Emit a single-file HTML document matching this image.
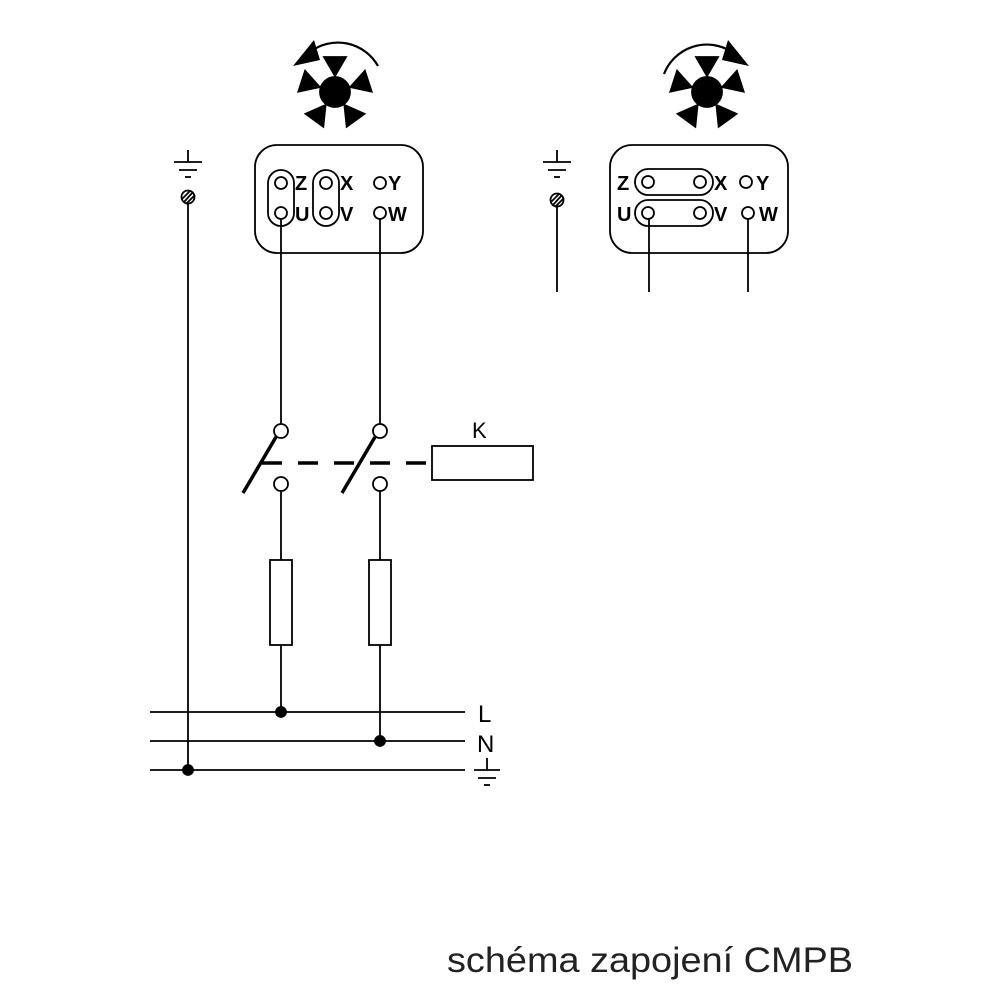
<!DOCTYPE html>
<html><head><meta charset="utf-8"><style>html,body{margin:0;padding:0;background:#fff}svg{display:block}</style></head>
<body>
<svg width="1000" height="1000" viewBox="0 0 1000 1000" xmlns="http://www.w3.org/2000/svg" font-family="Liberation Sans, sans-serif">
<defs>
<g id="fan">
<circle cx="0" cy="0" r="15" fill="#000"/>
<g fill="#000">
<polygon points="-11,-35 11,-35 0,-16" transform="rotate(0)"/>
<polygon points="-11,-35 11,-35 0,-16" transform="rotate(72)"/>
<polygon points="-11,-35 11,-35 0,-16" transform="rotate(144)"/>
<polygon points="-11,-35 11,-35 0,-16" transform="rotate(216)"/>
<polygon points="-11,-35 11,-35 0,-16" transform="rotate(288)"/>
</g>
</g>
</defs>
<g stroke="#000" stroke-width="1.8" fill="none">
<use href="#fan" x="335" y="92"/>
<path d="M378,66 A46,46 0 0 0 310,52" stroke-width="2.2"/>
<polygon points="293,66 314,40 320,60" fill="#000" stroke="none"/>
<use href="#fan" x="707" y="92"/>
<path d="M664,74 A46,46 0 0 1 732,52" stroke-width="2.2"/>
<polygon points="749,66 728,40 722,60" fill="#000" stroke="none"/>

<line x1="188" y1="150" x2="188" y2="162"/>
<line x1="174" y1="162" x2="202" y2="162"/>
<line x1="179" y1="170" x2="197" y2="170"/>
<line x1="185" y1="177" x2="191" y2="177"/>
<circle cx="188" cy="197" r="6.5"/>
<line x1="184" y1="202" x2="193" y2="192"/>
<line x1="182" y1="199" x2="190" y2="191"/>
<line x1="186" y1="204" x2="195" y2="195"/>
<line x1="188" y1="204" x2="188" y2="770"/>

<rect x="255" y="145" width="168" height="108" rx="22"/>
<rect x="268" y="170" width="26" height="56" rx="13"/>
<rect x="313" y="170" width="26" height="56" rx="13"/>
<circle cx="281" cy="183" r="6"/><circle cx="281" cy="213" r="6"/>
<circle cx="326" cy="183" r="6"/><circle cx="326" cy="213" r="6"/>
<circle cx="380" cy="183" r="6"/><circle cx="380" cy="213" r="6"/>

<line x1="557" y1="150" x2="557" y2="162"/>
<line x1="543" y1="162" x2="571" y2="162"/>
<line x1="548" y1="170" x2="566" y2="170"/>
<line x1="554" y1="177" x2="560" y2="177"/>
<circle cx="557" cy="200" r="6.5"/>
<line x1="553" y1="205" x2="562" y2="195"/>
<line x1="551" y1="202" x2="559" y2="194"/>
<line x1="555" y1="207" x2="564" y2="198"/>
<line x1="557" y1="207" x2="557" y2="292"/>

<rect x="610" y="145" width="178" height="108" rx="22"/>
<rect x="635" y="169" width="78" height="26" rx="13"/>
<rect x="635" y="200" width="78" height="26" rx="13"/>
<circle cx="648" cy="182" r="6"/><circle cx="700" cy="182" r="6"/>
<circle cx="648" cy="213" r="6"/><circle cx="700" cy="213" r="6"/>
<circle cx="746" cy="182" r="6"/><circle cx="748" cy="213" r="6"/>
<line x1="649" y1="219" x2="649" y2="292"/>
<line x1="748" y1="219" x2="748" y2="292"/>

<line x1="281" y1="219" x2="281" y2="424"/>
<line x1="380" y1="219" x2="380" y2="424"/>
<circle cx="281" cy="431" r="7" fill="#fff"/>
<circle cx="380" cy="431" r="7" fill="#fff"/>
<circle cx="281" cy="484" r="7" fill="#fff"/>
<circle cx="380" cy="484" r="7" fill="#fff"/>
<line x1="243" y1="493" x2="276" y2="437" stroke-width="3.5"/>
<line x1="342" y1="493" x2="375" y2="437" stroke-width="3.5"/>
<line x1="262" y1="463" x2="432" y2="463" stroke-width="3.5" stroke-dasharray="20,16"/>
<rect x="432" y="446" width="101" height="34"/>
<line x1="281" y1="491" x2="281" y2="560"/>
<line x1="380" y1="491" x2="380" y2="560"/>
<rect x="270" y="560" width="22" height="85"/>
<rect x="369" y="560" width="22" height="85"/>
<line x1="281" y1="645" x2="281" y2="712"/>
<line x1="380" y1="645" x2="380" y2="741"/>

<line x1="150" y1="712" x2="465" y2="712"/>
<line x1="150" y1="741" x2="465" y2="741"/>
<line x1="150" y1="770" x2="465" y2="770"/>
<circle cx="281" cy="712" r="5" fill="#000"/>
<circle cx="380" cy="741" r="5" fill="#000"/>
<circle cx="188" cy="770" r="5" fill="#000"/>
<line x1="487" y1="758" x2="487" y2="770"/>
<line x1="474" y1="770" x2="500" y2="770"/>
<line x1="478" y1="778" x2="496" y2="778"/>
<line x1="484" y1="785" x2="490" y2="785"/>
</g>
<g fill="#000" font-size="20" font-weight="bold">
<text x="295" y="190">Z</text><text x="295" y="221">U</text>
<text x="340" y="190">X</text><text x="340" y="221">V</text>
<text x="388" y="190">Y</text><text x="388" y="221">W</text>
<text x="617" y="190">Z</text><text x="617" y="221">U</text>
<text x="714" y="190">X</text><text x="714" y="221">V</text>
<text x="756" y="190">Y</text><text x="759" y="221">W</text>
<text x="472" y="438" font-size="22" font-weight="normal">K</text>
<text x="478" y="722" font-size="24" font-weight="normal">L</text>
<text x="477" y="752" font-size="24" font-weight="normal">N</text>
<text x="447" y="972" font-size="35" font-weight="normal" textLength="406" lengthAdjust="spacingAndGlyphs" fill="#222">schéma zapojení CMPB</text>
</g>
</svg>
</body></html>
